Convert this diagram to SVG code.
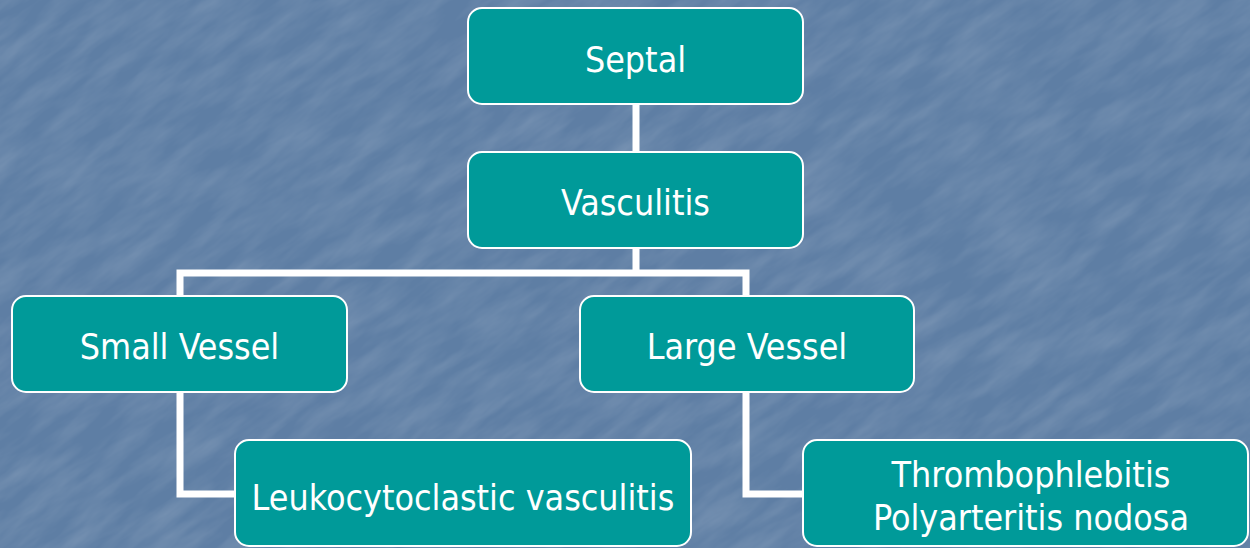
<svg xmlns="http://www.w3.org/2000/svg" width="1250" height="548" viewBox="0 0 1250 548">
<style>
.node rect{fill:#009a99;stroke:#ffffff;stroke-width:2}
.node text{fill:#ffffff;font-family:"DejaVu Sans Condensed","DejaVu Sans","Liberation Sans",sans-serif;font-stretch:condensed;font-size:35.5px;text-anchor:middle}
.conn{fill:none;stroke:#ffffff;stroke-width:7;stroke-linejoin:miter}
</style>
<defs>
<filter id="tex" x="0" y="0" width="100%" height="100%">
<feTurbulence type="fractalNoise" baseFrequency="0.015 0.06" numOctaves="4" seed="5" result="n"/>
<feColorMatrix in="n" type="matrix" values="0 0 0 0 1  0 0 0 0 1  0 0 0 0 1  0 0 0 0.22 -0.07"/>
</filter>
</defs>
<rect width="1250" height="548" fill="#5e7ea4"/>
<rect x="-400" y="-400" width="2050" height="1350" filter="url(#tex)" transform="rotate(-35 625 274)"/>
<g id="connectors">
<path class="conn" d="M636 104V152"/>
<path class="conn" d="M636 248V273M180 296V273H746V296"/>
<path class="conn" d="M180 392V494H236"/>
<path class="conn" d="M746 392V494H804"/>
</g>
<g id="septal" class="node"><rect x="468" y="8" width="335" height="96" rx="14"/><text x="635.5" y="72">Septal</text></g>
<g id="vasculitis" class="node"><rect x="468" y="152" width="335" height="96" rx="14"/><text x="635.5" y="215">Vasculitis</text></g>
<g id="small-vessel" class="node"><rect x="12" y="296" width="335" height="96" rx="14"/><text x="179.5" y="359">Small Vessel</text></g>
<g id="large-vessel" class="node"><rect x="580" y="296" width="334" height="96" rx="14"/><text x="747" y="359">Large Vessel</text></g>
<g id="leukocytoclastic" class="node"><rect x="235" y="440" width="456" height="106" rx="14"/><text x="463" y="510">Leukocytoclastic vasculitis</text></g>
<g id="large-vessel-types" class="node"><rect x="803" y="440" width="445" height="106" rx="14"/><text x="1031" y="487">Thrombophlebitis</text><text x="1031" y="530">Polyarteritis nodosa</text></g>
</svg>
